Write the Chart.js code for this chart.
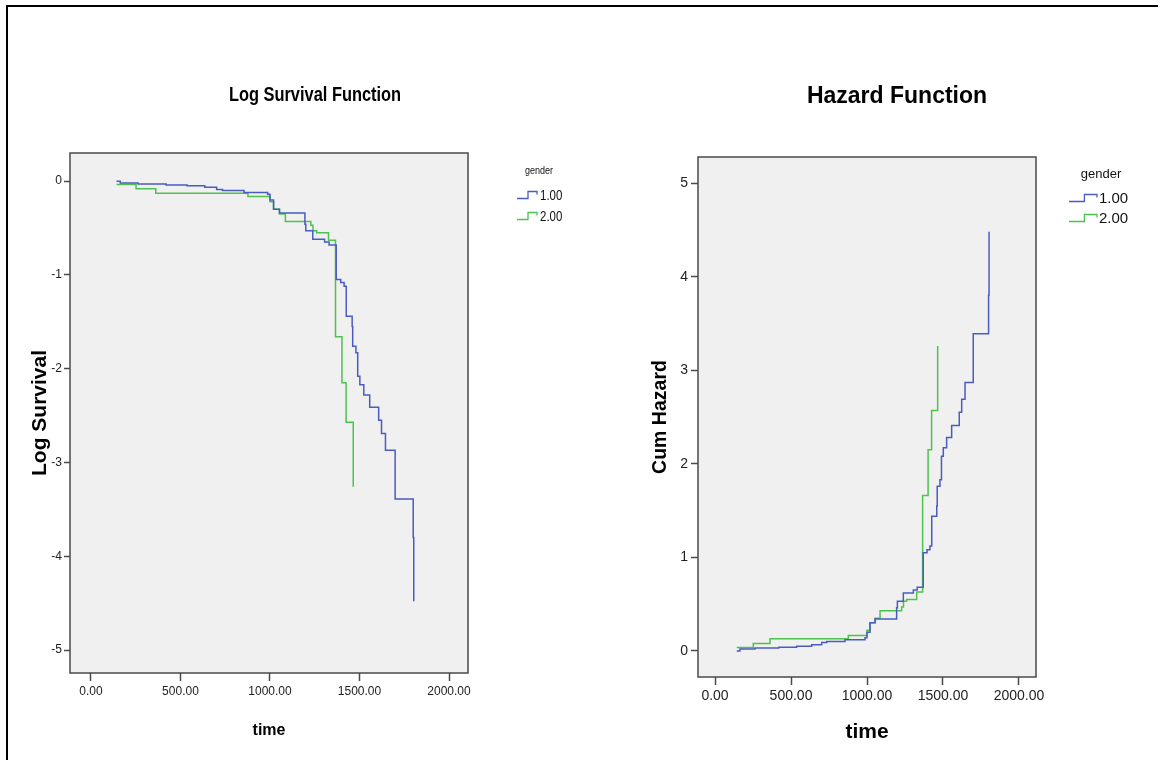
<!DOCTYPE html>
<html><head><meta charset="utf-8">
<script src="https://cdn.jsdelivr.net/npm/chart.js@4.4.1/dist/chart.umd.min.js"></script>
<style>
html,body{margin:0;padding:0;background:#fff;width:1171px;height:760px;overflow:hidden;}
#frame{position:absolute;left:6px;top:5px;width:1150px;height:800px;border-top:2px solid #000;border-left:2px solid #000;}
#c1{position:absolute;left:0;top:0;}
#c2{position:absolute;left:640px;top:0;}
</style></head><body>
<div id="frame"></div>
<canvas id="c1" width="630" height="760"></canvas>
<canvas id="c2" width="531" height="760"></canvas>
<script>
const REG = "'Liberation Sans',Arial,'DejaVu Sans',sans-serif";

// ---- data ----
const genderLabels = ['1.00', '2.00'];
const seriesColors = ['#4a5cc0', '#4ec24e'];

const time1 = [143,164,263,420,537,636,702,735,855,987,1000,1020,1053,1195,1200,1239,1305,1330,1370,1395,1414,1426,1459,1462,1480,1490,1502,1524,1557,1607,1623,1645,1699,1800,1803];
const cumHazard1 = [0.00,0.02,0.03,0.04,0.05,0.065,0.09,0.10,0.12,0.14,0.20,0.30,0.34,0.46,0.53,0.62,0.65,0.68,1.05,1.08,1.12,1.44,1.55,1.76,1.83,2.08,2.17,2.28,2.41,2.55,2.69,2.87,3.39,3.80,4.48];
const logSurvival1 = [0.00,-0.02,-0.03,-0.04,-0.05,-0.065,-0.09,-0.10,-0.12,-0.14,-0.20,-0.30,-0.34,-0.46,-0.53,-0.62,-0.65,-0.68,-1.05,-1.08,-1.12,-1.44,-1.55,-1.76,-1.83,-2.08,-2.17,-2.28,-2.41,-2.55,-2.69,-2.87,-3.39,-3.80,-4.48];

const time2 = [143,252,362,877,1000,1020,1053,1086,1228,1240,1261,1327,1366,1402,1425,1465];
const cumHazard2 = [0.035,0.08,0.13,0.165,0.22,0.30,0.35,0.43,0.47,0.53,0.55,0.63,1.66,2.15,2.57,3.26];
const logSurvival2 = [-0.035,-0.08,-0.13,-0.165,-0.22,-0.30,-0.35,-0.43,-0.47,-0.53,-0.55,-0.63,-1.66,-2.15,-2.57,-3.26];

const xTickValues = [0, 500, 1000, 1500, 2000];
const xTickLabels = ['0.00', '500.00', '1000.00', '1500.00', '2000.00'];
const logSurvTicks = [0, -1, -2, -3, -4, -5];
const logSurvTickLabels = ['0', '-1', '-2', '-3', '-4', '-5'];
const hazardTicks = [0, 1, 2, 3, 4, 5];
const hazardTickLabels = ['0', '1', '2', '3', '4', '5'];

function drawText(c, text, x, y, font, sx, align) {
  c.save();
  c.font = font;
  c.textBaseline = 'middle';
  c.textAlign = align;
  c.translate(x, y);
  c.scale(sx, 1);
  c.fillText(text, 0, 0);
  c.restore();
}

// ---- plugin: plot background, frame, title, legend ----
const decor = {
  id: 'decor',
  beforeDraw(chart, args, o) {
    const a = chart.chartArea, c = chart.ctx;
    c.save();
    c.fillStyle = '#f0f0f0';
    c.fillRect(a.left, a.top, a.right - a.left, a.bottom - a.top);
    c.restore();
  },
  afterDraw(chart, args, o) {
    const a = chart.chartArea, c = chart.ctx;
    c.save();
    c.strokeStyle = '#4a4a4a';
    c.lineWidth = 1.5;
    c.strokeRect(a.left, a.top, a.right - a.left, a.bottom - a.top);
    c.fillStyle = '#000';
    drawText(c, o.title.text, o.title.x, o.title.y, o.title.font, o.title.sx, 'center');
    const L = o.legend;
    c.fillStyle = '#111';
    drawText(c, 'gender', L.titleX, L.titleY, L.titleFont, L.sx, 'center');
    chart.data.datasets.forEach((ds, i) => {
      const y = L.rows[i];
      const x0 = L.iconX, w = L.iconW;
      c.strokeStyle = ds.borderColor;
      c.lineWidth = 1.3;
      c.beginPath();
      c.moveTo(x0, y + 3.5);
      c.lineTo(x0 + w * 0.55, y + 3.5);
      c.lineTo(x0 + w * 0.55, y - 3.5);
      c.lineTo(x0 + w, y - 3.5);
      c.lineTo(x0 + w, y - 0.5);
      c.stroke();
      c.fillStyle = '#111';
      drawText(c, ds.label, L.textX, y + 1, L.font, L.sx, 'left');
    });
    c.restore();
  }
};

function makeDatasets(xs1, ys1, xs2, ys2) {
  return [
    { label: genderLabels[0], data: xs1.map((t, i) => ({ x: t, y: ys1[i] })), borderColor: seriesColors[0] },
    { label: genderLabels[1], data: xs2.map((t, i) => ({ x: t, y: ys2[i] })), borderColor: seriesColors[1] }
  ].map(d => Object.assign(d, { stepped: 'before', borderWidth: 1.5, pointRadius: 0, fill: false, tension: 0 }));
}

function axisCfg(opts) {
  return {
    type: 'linear',
    min: opts.min, max: opts.max,
    afterBuildTicks: s => { s.ticks = opts.tickValues.map(v => ({ value: v })); },
    afterFit: s => {
      if (opts.horizontal) s.height = opts.size; else s.width = opts.size;
      s.paddingLeft = 0; s.paddingRight = 0; s.paddingTop = 0; s.paddingBottom = 0;
    },
    grid: { drawOnChartArea: false, drawTicks: true, tickLength: opts.tickLength, tickColor: '#4a4a4a', tickWidth: 1.5 },
    border: { display: false },
    ticks: {
      autoSkip: false, maxRotation: 0, minRotation: 0,
      padding: opts.tickPad, color: '#222',
      font: { family: REG, size: opts.tickSize },
      callback: (v, i) => opts.tickLabels[i]
    },
    title: {
      display: true, text: opts.title, color: '#000',
      font: { family: REG, size: opts.titleSize, weight: 'bold' },
      padding: opts.titlePad
    }
  };
}

// ---- left chart: Log Survival Function ----
new Chart(document.getElementById('c1'), {
  type: 'line',
  data: { datasets: makeDatasets(time1, logSurvival1, time2, logSurvival2) },
  options: {
    responsive: false, animation: false, devicePixelRatio: 1,
    layout: { padding: { top: 153, right: 162, bottom: 0, left: 0 } },
    plugins: {
      legend: { display: false }, tooltip: { enabled: false },
      decor: {
        title: { text: 'Log Survival Function', x: 315, y: 95, font: "bold 20px " + REG, sx: 0.82 },
        legend: { titleX: 539, titleY: 171, titleFont: "11px " + REG, sx: 0.82, iconX: 517, iconW: 20, textX: 540, rows: [195, 216], font: "14px " + REG }
      }
    },
    scales: {
      x: axisCfg({ horizontal: true, min: -117, max: 2106, tickValues: xTickValues, tickLabels: xTickLabels, size: 87, tickLength: 8, tickPad: 3, tickSize: 12, title: 'time', titleSize: 16, titlePad: { top: 0, bottom: 20 } }),
      y: axisCfg({ horizontal: false, min: -5.245, max: 0.3, tickValues: logSurvTicks, tickLabels: logSurvTickLabels, size: 70, tickLength: 6, tickPad: 2, tickSize: 12, title: 'Log Survival', titleSize: 21, titlePad: { top: 28, bottom: 0 } })
    }
  },
  plugins: [decor]
});

// ---- right chart: Hazard Function ----
new Chart(document.getElementById('c2'), {
  type: 'line',
  data: { datasets: makeDatasets(time1, cumHazard1, time2, cumHazard2) },
  options: {
    responsive: false, animation: false, devicePixelRatio: 1,
    layout: { padding: { top: 157, right: 135, bottom: 0, left: 0 } },
    plugins: {
      legend: { display: false }, tooltip: { enabled: false },
      decor: {
        title: { text: 'Hazard Function', x: 257, y: 97, font: "bold 23px " + REG, sx: 1 },
        legend: { titleX: 461, titleY: 174, titleFont: "13px " + REG, sx: 1, iconX: 429, iconW: 28, textX: 459, rows: [198, 218], font: "15px " + REG }
      }
    },
    scales: {
      x: axisCfg({ horizontal: true, min: -112, max: 2112, tickValues: xTickValues, tickLabels: xTickLabels, size: 83, tickLength: 8, tickPad: 3, tickSize: 14, title: 'time', titleSize: 21, titlePad: { top: 0, bottom: 15 } }),
      y: axisCfg({ horizontal: false, min: -0.279, max: 5.279, tickValues: hazardTicks, tickLabels: hazardTickLabels, size: 58, tickLength: 7, tickPad: 3, tickSize: 14, title: 'Cum Hazard', titleSize: 19.5, titlePad: { top: 9, bottom: 0 } })
    }
  },
  plugins: [decor]
});
</script>
</body></html>
